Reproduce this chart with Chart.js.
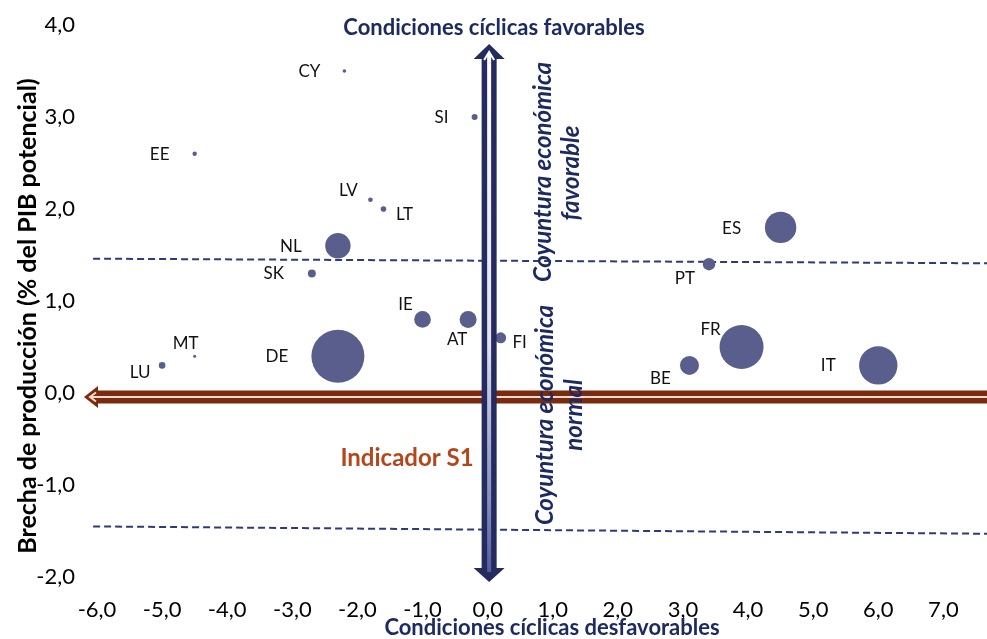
<!DOCTYPE html>
<html><head><meta charset="utf-8">
<script src="https://cdn.jsdelivr.net/npm/chart.js@4.4.0/dist/chart.umd.min.js"></script>
<style>html,body{margin:0;padding:0;background:#fff;overflow:hidden}#wrap{width:987px;height:639px;position:relative}canvas{display:block}</style>
</head><body><div id="wrap"><canvas id="c" width="987" height="639"></canvas></div>
<script>
// ---- data ----
const countries   = ['CY','SI','EE','LV','LT','NL','SK','ES','PT','IE','AT','FI','MT','LU','DE','BE','FR','IT'];
const s1Indicator = [-2.2,-0.2,-4.5,-1.8,-1.6,-2.3,-2.7, 4.5, 3.4,-1.0,-0.3, 0.2,-4.5,-5.0,-2.3, 3.1, 3.9, 6.0];
const outputGap   = [ 3.5, 3.0, 2.6, 2.1, 2.0, 1.6, 1.3, 1.8, 1.4, 0.8, 0.8, 0.6, 0.4, 0.3, 0.4, 0.3, 0.5, 0.3];
const gdpSize     = [  16,  44,  23,  26,  38, 781,  77,1193, 186, 333, 350, 146,  11,  53,3400, 437,2343,1784];
const xTickValues = [-6,-5,-4,-3,-2,-1,0,1,2,3,4,5,6,7];
const yTickValues = [-2,-1,0,1,2,3,4];
const thresholdX  = [-6.06, 7.67];
const upperBand   = [1.46, 1.41];
const lowerBand   = [-1.45, -1.53];

const NAVY = '#1d2a62';
const BUBBLE = '#5a5e8c';
const FONT = 'Lato, Carlito, Calibri, "Open Sans", sans-serif';

const bubbleData = countries.map((c,i)=>({x:s1Indicator[i], y:outputGap[i], r:0.4545*Math.sqrt(gdpSize[i])}));

// label offsets (px, label centre relative to bubble centre)
const labelOffsets = {CY:[-35,1],SI:[-33,1],EE:[-35,1],LV:[-22,-9],LT:[21,6],NL:[-47,1],SK:[-38,0],
  ES:[-49,1],PT:[-24,14],IE:[-17,-15],AT:[-11,20],FI:[19,5],MT:[-9,-13],LU:[-22,7],DE:[-61,0],
  BE:[-29,13],FR:[-31,-17],IT:[-50,0]};

const fmt = v => v.toFixed(1).replace('.',',').replace('-0,0','0,0');

const labelsPlugin = {
  id:'countryLabels',
  afterDatasetsDraw(chart){
    const ctx = chart.ctx;
    const meta = chart.getDatasetMeta(2);
    ctx.save();
    ctx.font = '17px ' + FONT;
    ctx.fillStyle = '#111';
    ctx.textAlign = 'center';
    ctx.textBaseline = 'middle';
    meta.data.forEach((el,i)=>{
      const c = countries[i];
      const o = labelOffsets[c] || [0,0];
      ctx.fillText(c, el.x + o[0], el.y + o[1]);
    });
    ctx.restore();
  }
};

const arrowsPlugin = {
  id:'arrows',
  afterDatasetsDraw(chart){
    const {ctx, scales:{x,y}} = chart;
    ctx.save();
    // horizontal brown arrow (Indicador S1 axis)
    const y0 = y.getPixelForValue(0) + 4;
    const tip = x.getPixelForValue(-6.2);
    const right = chart.width + 2;
    const hl = 14, hh = 11, sh = 6.5;
    ctx.beginPath();
    ctx.moveTo(tip, y0);
    ctx.lineTo(tip+hl, y0-hh);
    ctx.lineTo(tip+hl, y0-sh);
    ctx.lineTo(right, y0-sh);
    ctx.lineTo(right, y0+sh);
    ctx.lineTo(tip+hl, y0+sh);
    ctx.lineTo(tip+hl, y0+hh);
    ctx.closePath();
    ctx.fillStyle = '#7a2a0e';
    ctx.fill();
    ctx.strokeStyle = '#f6dacd';
    ctx.lineWidth = 2;
    ctx.beginPath();
    ctx.moveTo(tip+12, y0-4.5);
    ctx.lineTo(tip+6, y0);
    ctx.lineTo(tip+12, y0+4.5);
    ctx.stroke();
    ctx.beginPath();
    ctx.moveTo(tip+7, y0);
    ctx.lineTo(right, y0);
    ctx.stroke();

    // vertical navy arrow (output gap axis)
    const xc = x.getPixelForValue(0) + 1.5;
    const topTip = 44, topBase = 59, botBase = 568, botTip = 582;
    const vh = 15.5, vs = 7.5;
    ctx.beginPath();
    ctx.moveTo(xc, topTip);
    ctx.lineTo(xc+vh, topBase);
    ctx.lineTo(xc+vs, topBase);
    ctx.lineTo(xc+vs, botBase);
    ctx.lineTo(xc+vh, botBase);
    ctx.lineTo(xc, botTip);
    ctx.lineTo(xc-vh, botBase);
    ctx.lineTo(xc-vs, botBase);
    ctx.lineTo(xc-vs, topBase);
    ctx.lineTo(xc-vh, topBase);
    ctx.closePath();
    ctx.fillStyle = '#252b5e';
    ctx.fill();
    const g = ctx.createLinearGradient(0, topTip, 0, botTip);
    g.addColorStop(0, '#ffffff');
    g.addColorStop(0.55, '#dfe4ef');
    g.addColorStop(0.85, '#8190bd');
    g.addColorStop(1, '#4a5896');
    ctx.strokeStyle = g;
    ctx.lineWidth = 4;
    ctx.beginPath();
    ctx.moveTo(xc, topTip+10);
    ctx.lineTo(xc, botBase+4);
    ctx.stroke();
    ctx.lineWidth = 2;
    ctx.strokeStyle = '#ffffff';
    ctx.beginPath();
    ctx.moveTo(xc-5, topBase+1);
    ctx.lineTo(xc, topTip+8);
    ctx.lineTo(xc+5, topBase+1);
    ctx.stroke();
    ctx.restore();
  }
};

const textPlugin = {
  id:'annotTexts',
  afterDraw(chart){
    const ctx = chart.ctx;
    ctx.save();
    ctx.textAlign = 'center';
    ctx.textBaseline = 'middle';
    ctx.fillStyle = NAVY;
    ctx.font = 'bold 22px ' + FONT;
    ctx.fillText('Condiciones cíclicas favorables', 494, 28);
    ctx.fillText('Condiciones cíclicas desfavorables', 552, 628);
    ctx.fillStyle = '#b5461c';
    ctx.font = 'bold 24px ' + FONT;
    ctx.fillText('Indicador S1', 407, 458);
    ctx.fillStyle = NAVY;
    ctx.font = 'italic bold 24px ' + FONT;
    const rot = (t, cx, cy) => { ctx.save(); ctx.translate(cx, cy); ctx.rotate(-Math.PI/2); ctx.fillText(t, 0, 0); ctx.restore(); };
    rot('Coyuntura económica', 543, 172);
    rot('favorable', 571, 173);
    rot('Coyuntura económica', 545, 415);
    rot('normal', 574, 415);
    ctx.fillStyle = '#000';
    ctx.font = 'bold 25px ' + FONT;
    rot('Brecha de producción (% del PIB potencial)', 28, 316);
    ctx.restore();
  }
};

new Chart(document.getElementById('c'), {
  type:'bubble',
  data:{
    datasets:[
      {type:'line', label:'Umbral superior', data:thresholdX.map((v,i)=>({x:v,y:upperBand[i]})),
       borderColor:'#2f3a78', borderWidth:2, borderDash:[7,4], pointRadius:0, fill:false, order:3, clip:false},
      {type:'line', label:'Umbral inferior', data:thresholdX.map((v,i)=>({x:v,y:lowerBand[i]})),
       borderColor:'#2f3a78', borderWidth:2, borderDash:[7,4], pointRadius:0, fill:false, order:3, clip:false},
      {type:'bubble', label:'Países', data:bubbleData, backgroundColor:BUBBLE, borderColor:BUBBLE, borderWidth:0, order:1}
    ]
  },
  options:{
    responsive:false,
    animation:false,
    devicePixelRatio:1,
    layout:{autoPadding:false, padding:{top:25,left:0,right:0,bottom:0}},
    plugins:{legend:{display:false}, tooltip:{enabled:false}, title:{display:false}},
    scales:{
      x:{type:'linear', min:-6, max:7.67,
         grid:{display:false, drawTicks:false}, border:{display:false},
         afterBuildTicks:s=>{s.ticks = xTickValues.map(v=>({value:v}));},
         afterFit:s=>{s.height = 62; s.paddingLeft = 0; s.paddingRight = 0;},
         ticks:{callback:v=>fmt(v), color:'#000', font:{family:FONT, size:22}, padding:20, maxRotation:0, autoSkip:false}},
      y:{type:'linear', min:-2, max:4,
         grid:{display:false, drawTicks:false}, border:{display:false},
         afterBuildTicks:s=>{s.ticks = yTickValues.map(v=>({value:v}));},
         afterFit:s=>{s.width = 97; s.paddingTop = 0; s.paddingBottom = 0;},
         ticks:{callback:v=>fmt(v), color:'#000', font:{family:FONT, size:22}, padding:22}}
    }
  },
  plugins:[labelsPlugin, arrowsPlugin, textPlugin]
});
</script></body></html>
